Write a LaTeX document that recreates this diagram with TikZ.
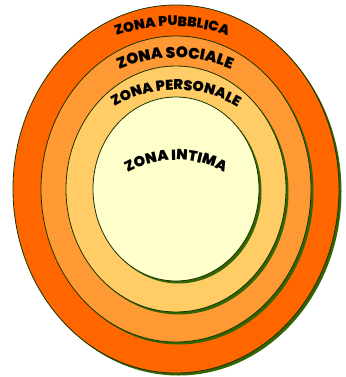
\documentclass[tikz,border=0pt]{standalone}
\usepackage{fontspec}
\newfontfamily\zonafont{Poppins Black}
\usetikzlibrary{decorations.text}
\definecolor{cPub}{HTML}{FF6600}
\definecolor{cSoc}{HTML}{FF9933}
\definecolor{cPer}{HTML}{FFCC66}
\definecolor{cInt}{HTML}{FFFFCC}
\definecolor{cShadow}{HTML}{336600}
\definecolor{cLine}{HTML}{1A3300}
\tikzset{
  zone/.style={draw=cLine, line width=0.8pt},
  zshadow/.style={fill=cShadow, draw=none},
  arctext/.style={decorate, decoration={text along path, text align=center, text={#1}}}
}
\begin{document}
\begin{tikzpicture}[x=1pt,y=1pt]
\useasboundingbox (0,0) rectangle (345,-377);
% outer
\fill[zshadow] (178.5,-191.5) ellipse [x radius=163, y radius=184];
\path[zone, fill=cPub] (176,-189) ellipse [x radius=163, y radius=184];
% sociale
\fill[zshadow] (178.5,-191.5) ellipse [x radius=135, y radius=153];
\path[zone, fill=cSoc] (176,-189) ellipse [x radius=135, y radius=153];
% personale
\fill[zshadow] (178.5,-191.5) ellipse [x radius=110, y radius=123];
\path[zone, fill=cPer] (176,-189) ellipse [x radius=110, y radius=123];
% intima
\fill[zshadow] (178.5,-191.5) ellipse [x radius=83, y radius=92];
\path[zone, fill=cInt] (176,-189) ellipse [x radius=83, y radius=92];
% texts
\path[arctext={|\zonafont\fontsize{13.8}{13.8}\selectfont|ZONA PUBBLICA}]
  (172,-26-160) ++(140:160) arc[start angle=140, end angle=40, radius=160];
\path[arctext={|\zonafont\fontsize{15.4}{15.4}\selectfont|ZONA SOCIALE}]
  (175,-58-145) ++(140:145) arc[start angle=140, end angle=40, radius=145];
\path[arctext={|\zonafont\fontsize{14.3}{14.3}\selectfont|ZONA PERSONALE}]
  (176,-90-120) ++(145:120) arc[start angle=145, end angle=35, radius=120];
\path[arctext={|\zonafont\fontsize{14.6}{14.6}\selectfont|ZONA INTIMA}]
  (176,-160-100) ++(145:100) arc[start angle=145, end angle=35, radius=100];
\end{tikzpicture}
\end{document}
